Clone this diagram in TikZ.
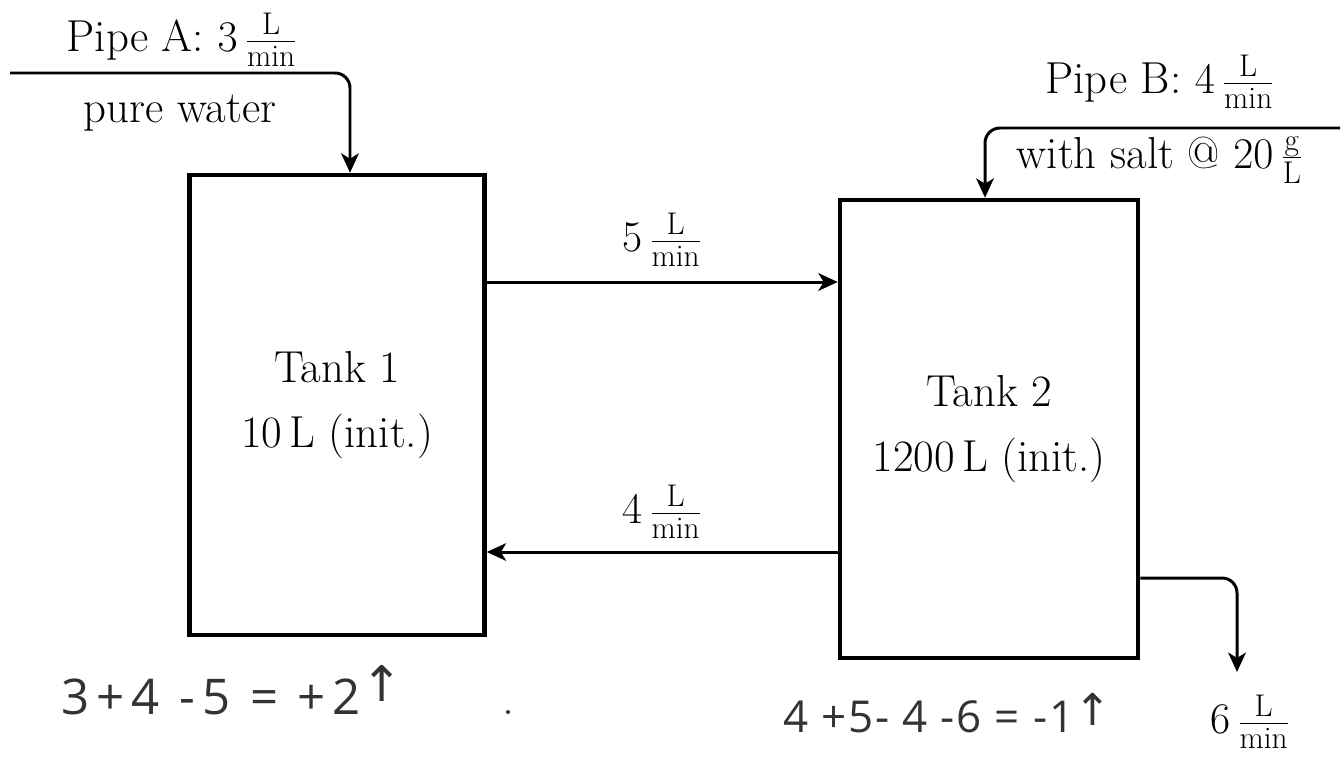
\documentclass[tikz,border=0pt]{standalone}
\usepackage{fontspec}
\newfontfamily\hand[LetterSpace=14]{Open Sans}
\newfontfamily\handb[LetterSpace=4]{Open Sans}
\newfontfamily\handarrow{DejaVu Sans}
\usetikzlibrary{arrows.meta}
\newcommand{\uparr}{{\handarrow ↑}}
\begin{document}
\begin{tikzpicture}[x=0.02cm,y=-0.02cm,
  every node/.style={font=\fontsize{25.5}{37}\selectfont},
  tank/.style={draw,line width=2.6pt,align=center,inner sep=0pt},
  arr/.style={line width=1.7pt,-{Stealth[length=11pt,width=10pt,inset=3pt]}},
  pipe/.style={arr,rounded corners=0.3cm},
  lbl/.style={inner sep=0pt},
  handw/.style={font=\hand\fontsize{28}{32}\selectfont,text=black!80},
  handwb/.style={font=\handb\fontsize{25}{30}\selectfont,text=black!80}]
\useasboundingbox (0,0) rectangle (1344,761);
% tanks
\node[tank,minimum width=5.9cm,minimum height=9.2cm] (t1) at (337,405)
  {Tank 1\\10\,L (init.)};
\node[tank,minimum width=5.96cm,minimum height=9.16cm] (t2) at (989,429)
  {Tank 2\\1200\,L (init.)};
% helper coordinates
\coordinate (pa) at (10,73);
\coordinate (ax) at (350,0);
\coordinate (pb) at (1340,128);
\coordinate (bx) at (985,0);
\coordinate (y1) at (0,282);
\coordinate (y2) at (0,552);
\coordinate (y3) at (0,578);
\coordinate (ox) at (1237,0);
\coordinate (oe) at (1237,672);
% pipes
\draw[pipe] (pa) -- (pa -| ax) -- (t1.north -| ax);
\draw[pipe] (pb) -- (pb -| bx) -- (t2.north -| bx);
\draw[arr] (t1.east |- y1) -- (t2.west |- y1);
\draw[arr] (t2.west |- y2) -- (t1.east |- y2);
\draw[pipe] (t2.east |- y3) -- (y3 -| ox) -- (oe);
% labels
\node[lbl] (la) at (182,40) {Pipe A: $3\,\frac{\mathrm{L}}{\mathrm{min}}$};
\node[lbl] (lw) at (180,113) {pure water};
\node[lbl] (lb) at (1160,82) {Pipe B: $4\,\frac{\mathrm{L}}{\mathrm{min}}$};
\node[lbl] (ls) at (1160,160) {with salt @ $20\,\frac{\mathrm{g}}{\mathrm{L}}$};
\node[lbl] (l5) at (662,240) {$5\,\frac{\mathrm{L}}{\mathrm{min}}$};
\node[lbl] (l4) at (662,512) {$4\,\frac{\mathrm{L}}{\mathrm{min}}$};
\node[lbl] (l6) at (1250,722) {$6\,\frac{\mathrm{L}}{\mathrm{min}}$};
% handwritten notes
\node[handw] (h1) at (232,690) {3+4 -5 = +2\raisebox{0.5ex}{\uparr}};
\node[handwb] (h2) at (947,713) {4 +5- 4 -6 = -1\raisebox{0.3ex}{\uparr}};
\fill[black!80] (508,712) circle (2);
\end{tikzpicture}
\end{document}
